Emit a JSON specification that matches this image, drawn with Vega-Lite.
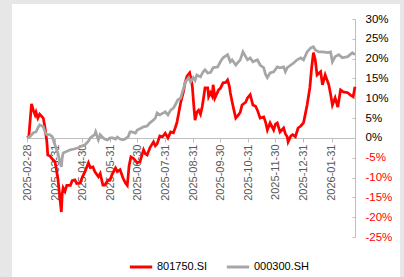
{
  "$schema": "https://vega.github.io/schema/vega-lite/v6.json",
  "width": 388,
  "height": 273,
  "autosize": {"type": "none"},
  "padding": {"left": 12, "top": 4, "right": 4, "bottom": 0},
  "background": "#e7e7e7",
  "config": {"view": {"fill": "white", "stroke": null}, "font": "Liberation Sans"},
  "data": {"values": [
{"s":"801750.SI","date":"2025-02-28","v":0},{"s":"801750.SI","date":"2025-03-02","v":0.3},{"s":"801750.SI","date":"2025-03-05","v":8.6},{"s":"801750.SI","date":"2025-03-07","v":7},{"s":"801750.SI","date":"2025-03-09","v":5.8},{"s":"801750.SI","date":"2025-03-10","v":6.5},{"s":"801750.SI","date":"2025-03-12","v":5.0},{"s":"801750.SI","date":"2025-03-14","v":6.0},{"s":"801750.SI","date":"2025-03-18","v":5.0},{"s":"801750.SI","date":"2025-03-20","v":2.5},{"s":"801750.SI","date":"2025-03-22","v":-1},{"s":"801750.SI","date":"2025-03-23","v":-4.3},{"s":"801750.SI","date":"2025-03-25","v":-4.5},{"s":"801750.SI","date":"2025-03-29","v":-5.6},{"s":"801750.SI","date":"2025-03-31","v":-6},{"s":"801750.SI","date":"2025-04-02","v":-8.6},{"s":"801750.SI","date":"2025-04-03","v":-10},{"s":"801750.SI","date":"2025-04-04","v":-12},{"s":"801750.SI","date":"2025-04-07","v":-18.7},{"s":"801750.SI","date":"2025-04-08","v":-14},{"s":"801750.SI","date":"2025-04-09","v":-12.6},{"s":"801750.SI","date":"2025-04-11","v":-13.5},{"s":"801750.SI","date":"2025-04-13","v":-12},{"s":"801750.SI","date":"2025-04-17","v":-12},{"s":"801750.SI","date":"2025-04-19","v":-10.8},{"s":"801750.SI","date":"2025-04-22","v":-10.6},{"s":"801750.SI","date":"2025-04-24","v":-11.5},{"s":"801750.SI","date":"2025-04-28","v":-11.4},{"s":"801750.SI","date":"2025-04-30","v":-10},{"s":"801750.SI","date":"2025-05-03","v":-8.6},{"s":"801750.SI","date":"2025-05-07","v":-6.3},{"s":"801750.SI","date":"2025-05-09","v":-7.5},{"s":"801750.SI","date":"2025-05-12","v":-7.3},{"s":"801750.SI","date":"2025-05-14","v":-8.5},{"s":"801750.SI","date":"2025-05-18","v":-9.8},{"s":"801750.SI","date":"2025-05-20","v":-9},{"s":"801750.SI","date":"2025-05-23","v":-11.9},{"s":"801750.SI","date":"2025-05-25","v":-11.9},{"s":"801750.SI","date":"2025-05-29","v":-10.6},{"s":"801750.SI","date":"2025-05-31","v":-10.6},{"s":"801750.SI","date":"2025-06-02","v":-9.3},{"s":"801750.SI","date":"2025-06-06","v":-7.6},{"s":"801750.SI","date":"2025-06-08","v":-8.5},{"s":"801750.SI","date":"2025-06-11","v":-8},{"s":"801750.SI","date":"2025-06-14","v":-10},{"s":"801750.SI","date":"2025-06-17","v":-11.4},{"s":"801750.SI","date":"2025-06-19","v":-12},{"s":"801750.SI","date":"2025-06-21","v":-7},{"s":"801750.SI","date":"2025-06-23","v":-4.8},{"s":"801750.SI","date":"2025-06-26","v":-5.2},{"s":"801750.SI","date":"2025-06-30","v":-6.3},{"s":"801750.SI","date":"2025-07-03","v":-6.0},{"s":"801750.SI","date":"2025-07-07","v":-3},{"s":"801750.SI","date":"2025-07-09","v":-4},{"s":"801750.SI","date":"2025-07-11","v":-4.3},{"s":"801750.SI","date":"2025-07-14","v":-2.5},{"s":"801750.SI","date":"2025-07-18","v":-1},{"s":"801750.SI","date":"2025-07-20","v":-2},{"s":"801750.SI","date":"2025-07-22","v":-1.5},{"s":"801750.SI","date":"2025-07-25","v":0.5},{"s":"801750.SI","date":"2025-07-28","v":0.3},{"s":"801750.SI","date":"2025-07-31","v":1.2},{"s":"801750.SI","date":"2025-08-03","v":0},{"s":"801750.SI","date":"2025-08-06","v":1.5},{"s":"801750.SI","date":"2025-08-09","v":1.3},{"s":"801750.SI","date":"2025-08-11","v":2.5},{"s":"801750.SI","date":"2025-08-13","v":4},{"s":"801750.SI","date":"2025-08-17","v":8.8},{"s":"801750.SI","date":"2025-08-20","v":11.5},{"s":"801750.SI","date":"2025-08-22","v":13.9},{"s":"801750.SI","date":"2025-08-24","v":15.5},{"s":"801750.SI","date":"2025-08-27","v":16.4},{"s":"801750.SI","date":"2025-08-29","v":14.5},{"s":"801750.SI","date":"2025-08-30","v":12.9},{"s":"801750.SI","date":"2025-09-01","v":7},{"s":"801750.SI","date":"2025-09-02","v":4.5},{"s":"801750.SI","date":"2025-09-04","v":6.5},{"s":"801750.SI","date":"2025-09-06","v":7},{"s":"801750.SI","date":"2025-09-08","v":6},{"s":"801750.SI","date":"2025-09-10","v":8},{"s":"801750.SI","date":"2025-09-12","v":11},{"s":"801750.SI","date":"2025-09-13","v":12.6},{"s":"801750.SI","date":"2025-09-16","v":12.6},{"s":"801750.SI","date":"2025-09-17","v":10.4},{"s":"801750.SI","date":"2025-09-19","v":11.4},{"s":"801750.SI","date":"2025-09-21","v":10.5},{"s":"801750.SI","date":"2025-09-22","v":13.4},{"s":"801750.SI","date":"2025-09-24","v":10.1},{"s":"801750.SI","date":"2025-09-28","v":12.1},{"s":"801750.SI","date":"2025-09-30","v":12.5},{"s":"801750.SI","date":"2025-10-03","v":13.9},{"s":"801750.SI","date":"2025-10-06","v":14},{"s":"801750.SI","date":"2025-10-08","v":14.6},{"s":"801750.SI","date":"2025-10-10","v":13},{"s":"801750.SI","date":"2025-10-11","v":11.4},{"s":"801750.SI","date":"2025-10-13","v":9.1},{"s":"801750.SI","date":"2025-10-15","v":7},{"s":"801750.SI","date":"2025-10-17","v":5},{"s":"801750.SI","date":"2025-10-20","v":5.8},{"s":"801750.SI","date":"2025-10-22","v":6.5},{"s":"801750.SI","date":"2025-10-24","v":8.3},{"s":"801750.SI","date":"2025-10-28","v":9},{"s":"801750.SI","date":"2025-10-30","v":10.1},{"s":"801750.SI","date":"2025-11-02","v":10.9},{"s":"801750.SI","date":"2025-11-05","v":8.3},{"s":"801750.SI","date":"2025-11-08","v":8},{"s":"801750.SI","date":"2025-11-10","v":7},{"s":"801750.SI","date":"2025-11-13","v":5},{"s":"801750.SI","date":"2025-11-17","v":5.3},{"s":"801750.SI","date":"2025-11-19","v":4},{"s":"801750.SI","date":"2025-11-21","v":2},{"s":"801750.SI","date":"2025-11-24","v":3.8},{"s":"801750.SI","date":"2025-11-28","v":2},{"s":"801750.SI","date":"2025-11-30","v":3.5},{"s":"801750.SI","date":"2025-12-02","v":3.8},{"s":"801750.SI","date":"2025-12-05","v":1.5},{"s":"801750.SI","date":"2025-12-09","v":2.5},{"s":"801750.SI","date":"2025-12-11","v":1},{"s":"801750.SI","date":"2025-12-13","v":0.3},{"s":"801750.SI","date":"2025-12-14","v":-1},{"s":"801750.SI","date":"2025-12-17","v":0.5},{"s":"801750.SI","date":"2025-12-19","v":0.8},{"s":"801750.SI","date":"2025-12-22","v":0.3},{"s":"801750.SI","date":"2025-12-25","v":2.5},{"s":"801750.SI","date":"2025-12-28","v":3},{"s":"801750.SI","date":"2025-12-31","v":3.8},{"s":"801750.SI","date":"2026-01-02","v":6},{"s":"801750.SI","date":"2026-01-04","v":8.3},{"s":"801750.SI","date":"2026-01-07","v":12.6},{"s":"801750.SI","date":"2026-01-09","v":17.7},{"s":"801750.SI","date":"2026-01-11","v":21.5},{"s":"801750.SI","date":"2026-01-13","v":19.7},{"s":"801750.SI","date":"2026-01-15","v":15.9},{"s":"801750.SI","date":"2026-01-19","v":16.7},{"s":"801750.SI","date":"2026-01-21","v":13.4},{"s":"801750.SI","date":"2026-01-24","v":15.9},{"s":"801750.SI","date":"2026-01-28","v":13.4},{"s":"801750.SI","date":"2026-01-30","v":11},{"s":"801750.SI","date":"2026-02-01","v":8.3},{"s":"801750.SI","date":"2026-02-04","v":10.1},{"s":"801750.SI","date":"2026-02-07","v":7.8},{"s":"801750.SI","date":"2026-02-10","v":12.1},{"s":"801750.SI","date":"2026-02-13","v":11.6},{"s":"801750.SI","date":"2026-02-18","v":11.4},{"s":"801750.SI","date":"2026-02-21","v":10.8},{"s":"801750.SI","date":"2026-02-24","v":10.4},{"s":"801750.SI","date":"2026-02-26","v":12.9},
{"s":"000300.SH","date":"2025-02-28","v":0},{"s":"000300.SH","date":"2025-03-01","v":0},{"s":"000300.SH","date":"2025-03-04","v":0.5},{"s":"000300.SH","date":"2025-03-07","v":1.3},{"s":"000300.SH","date":"2025-03-10","v":1.5},{"s":"000300.SH","date":"2025-03-12","v":2.5},{"s":"000300.SH","date":"2025-03-14","v":3.3},{"s":"000300.SH","date":"2025-03-18","v":2.8},{"s":"000300.SH","date":"2025-03-20","v":1.5},{"s":"000300.SH","date":"2025-03-22","v":0.8},{"s":"000300.SH","date":"2025-03-25","v":0.8},{"s":"000300.SH","date":"2025-03-28","v":0.3},{"s":"000300.SH","date":"2025-03-31","v":-1.8},{"s":"000300.SH","date":"2025-04-03","v":-3.8},{"s":"000300.SH","date":"2025-04-07","v":-7.3},{"s":"000300.SH","date":"2025-04-08","v":-5},{"s":"000300.SH","date":"2025-04-09","v":-3.8},{"s":"000300.SH","date":"2025-04-12","v":-3.5},{"s":"000300.SH","date":"2025-04-17","v":-3},{"s":"000300.SH","date":"2025-04-21","v":-2.8},{"s":"000300.SH","date":"2025-04-26","v":-2.5},{"s":"000300.SH","date":"2025-04-30","v":-2},{"s":"000300.SH","date":"2025-05-03","v":-1.8},{"s":"000300.SH","date":"2025-05-07","v":-0.8},{"s":"000300.SH","date":"2025-05-09","v":0},{"s":"000300.SH","date":"2025-05-12","v":0.5},{"s":"000300.SH","date":"2025-05-14","v":0.8},{"s":"000300.SH","date":"2025-05-15","v":1.5},{"s":"000300.SH","date":"2025-05-18","v":-0.5},{"s":"000300.SH","date":"2025-05-20","v":0.8},{"s":"000300.SH","date":"2025-05-22","v":0.3},{"s":"000300.SH","date":"2025-05-25","v":-0.3},{"s":"000300.SH","date":"2025-05-28","v":-0.5},{"s":"000300.SH","date":"2025-05-31","v":0},{"s":"000300.SH","date":"2025-06-03","v":0},{"s":"000300.SH","date":"2025-06-06","v":-0.3},{"s":"000300.SH","date":"2025-06-08","v":0.2},{"s":"000300.SH","date":"2025-06-11","v":-0.3},{"s":"000300.SH","date":"2025-06-14","v":-0.5},{"s":"000300.SH","date":"2025-06-17","v":-0.2},{"s":"000300.SH","date":"2025-06-20","v":0.3},{"s":"000300.SH","date":"2025-06-22","v":1.5},{"s":"000300.SH","date":"2025-06-24","v":1.5},{"s":"000300.SH","date":"2025-06-28","v":1.2},{"s":"000300.SH","date":"2025-06-30","v":2},{"s":"000300.SH","date":"2025-07-03","v":2.3},{"s":"000300.SH","date":"2025-07-07","v":2.8},{"s":"000300.SH","date":"2025-07-11","v":3},{"s":"000300.SH","date":"2025-07-14","v":3.8},{"s":"000300.SH","date":"2025-07-18","v":4.5},{"s":"000300.SH","date":"2025-07-20","v":5},{"s":"000300.SH","date":"2025-07-22","v":6.3},{"s":"000300.SH","date":"2025-07-25","v":5.8},{"s":"000300.SH","date":"2025-07-29","v":6.3},{"s":"000300.SH","date":"2025-07-31","v":6.6},{"s":"000300.SH","date":"2025-08-03","v":5.8},{"s":"000300.SH","date":"2025-08-06","v":7},{"s":"000300.SH","date":"2025-08-09","v":7.5},{"s":"000300.SH","date":"2025-08-11","v":8.3},{"s":"000300.SH","date":"2025-08-14","v":9.6},{"s":"000300.SH","date":"2025-08-17","v":10},{"s":"000300.SH","date":"2025-08-19","v":11.6},{"s":"000300.SH","date":"2025-08-21","v":13},{"s":"000300.SH","date":"2025-08-22","v":14.1},{"s":"000300.SH","date":"2025-08-26","v":15.2},{"s":"000300.SH","date":"2025-08-28","v":14.1},{"s":"000300.SH","date":"2025-08-31","v":15.2},{"s":"000300.SH","date":"2025-09-02","v":14.5},{"s":"000300.SH","date":"2025-09-04","v":15.9},{"s":"000300.SH","date":"2025-09-08","v":15.4},{"s":"000300.SH","date":"2025-09-11","v":16.7},{"s":"000300.SH","date":"2025-09-13","v":17.2},{"s":"000300.SH","date":"2025-09-16","v":16.4},{"s":"000300.SH","date":"2025-09-19","v":16.5},{"s":"000300.SH","date":"2025-09-22","v":17.7},{"s":"000300.SH","date":"2025-09-27","v":17.9},{"s":"000300.SH","date":"2025-09-30","v":19.2},{"s":"000300.SH","date":"2025-10-03","v":20.2},{"s":"000300.SH","date":"2025-10-08","v":21},{"s":"000300.SH","date":"2025-10-11","v":19.2},{"s":"000300.SH","date":"2025-10-13","v":19.7},{"s":"000300.SH","date":"2025-10-17","v":18.4},{"s":"000300.SH","date":"2025-10-20","v":19.2},{"s":"000300.SH","date":"2025-10-22","v":19.7},{"s":"000300.SH","date":"2025-10-25","v":21.7},{"s":"000300.SH","date":"2025-10-28","v":20.5},{"s":"000300.SH","date":"2025-10-30","v":19.7},{"s":"000300.SH","date":"2025-11-02","v":20.2},{"s":"000300.SH","date":"2025-11-05","v":19.2},{"s":"000300.SH","date":"2025-11-10","v":19.7},{"s":"000300.SH","date":"2025-11-13","v":18.4},{"s":"000300.SH","date":"2025-11-17","v":17.7},{"s":"000300.SH","date":"2025-11-19","v":16},{"s":"000300.SH","date":"2025-11-21","v":15.2},{"s":"000300.SH","date":"2025-11-24","v":16.4},{"s":"000300.SH","date":"2025-11-28","v":16.7},{"s":"000300.SH","date":"2025-12-02","v":17.9},{"s":"000300.SH","date":"2025-12-05","v":17.7},{"s":"000300.SH","date":"2025-12-09","v":17.9},{"s":"000300.SH","date":"2025-12-11","v":16.7},{"s":"000300.SH","date":"2025-12-13","v":17.7},{"s":"000300.SH","date":"2025-12-17","v":18.4},{"s":"000300.SH","date":"2025-12-20","v":18.9},{"s":"000300.SH","date":"2025-12-24","v":19.7},{"s":"000300.SH","date":"2025-12-28","v":20.2},{"s":"000300.SH","date":"2025-12-31","v":19.7},{"s":"000300.SH","date":"2026-01-04","v":21.7},{"s":"000300.SH","date":"2026-01-08","v":22.7},{"s":"000300.SH","date":"2026-01-11","v":23},{"s":"000300.SH","date":"2026-01-13","v":22.2},{"s":"000300.SH","date":"2026-01-17","v":21.7},{"s":"000300.SH","date":"2026-01-21","v":21.7},{"s":"000300.SH","date":"2026-01-27","v":21.5},{"s":"000300.SH","date":"2026-01-30","v":21.7},{"s":"000300.SH","date":"2026-02-01","v":19.2},{"s":"000300.SH","date":"2026-02-04","v":20.5},{"s":"000300.SH","date":"2026-02-08","v":21},{"s":"000300.SH","date":"2026-02-12","v":20.2},{"s":"000300.SH","date":"2026-02-18","v":20.5},{"s":"000300.SH","date":"2026-02-23","v":21.5},{"s":"000300.SH","date":"2026-02-26","v":21}
  ]},
  "mark": {"type": "line", "strokeWidth": 2.75},
  "encoding": {
    "x": {
      "field": "date", "type": "temporal",
      "scale": {"type": "utc", "domain": [{"year": 2025, "month": 2, "date": 28, "utc": true}, {"year": 2026, "month": 2, "date": 26, "utc": true}], "range": [15, 343]},
      "axis": {
        "orient": "bottom", "offset": -139, "title": null, "grid": false,
        "values": [
          {"year": 2025, "month": 2, "date": 28, "utc": true},
          {"year": 2025, "month": 3, "date": 31, "utc": true},
          {"year": 2025, "month": 4, "date": 30, "utc": true},
          {"year": 2025, "month": 5, "date": 31, "utc": true},
          {"year": 2025, "month": 6, "date": 30, "utc": true},
          {"year": 2025, "month": 7, "date": 31, "utc": true},
          {"year": 2025, "month": 8, "date": 31, "utc": true},
          {"year": 2025, "month": 9, "date": 30, "utc": true},
          {"year": 2025, "month": 10, "date": 31, "utc": true},
          {"year": 2025, "month": 11, "date": 30, "utc": true},
          {"year": 2025, "month": 12, "date": 31, "utc": true},
          {"year": 2026, "month": 1, "date": 31, "utc": true}
        ],
        "labelExpr": "utcFormat(datum.value, '%Y-%m-%d')",
        "labelAngle": 270, "labelFontSize": 11, "labelColor": "#595959",
        "tickSize": 4, "labelPadding": 2, "tickColor": "#bfbfbf", "domainColor": "#bfbfbf",
        "labelOverlap": false, "labelFlush": false
      }
    },
    "y": {
      "field": "v", "type": "quantitative",
      "scale": {"domain": [-25, 30], "nice": false, "zero": false, "range": [233, 15]},
      "axis": {
        "orient": "right", "offset": -45, "title": null, "grid": false,
        "values": [-25, -20, -15, -10, -5, 0, 5, 10, 15, 20, 25, 30],
        "labelExpr": "datum.value + '%'",
        "labelFontSize": 11.5,
        "labelColor": {"condition": {"test": "datum.value < 0", "value": "#ff0000"}, "value": "#000000"},
        "tickSize": -3, "labelPadding": 13, "tickColor": "#bfbfbf", "domainColor": "#bfbfbf",
        "labelOverlap": false, "labelFlush": false
      }
    },
    "color": {
      "field": "s", "type": "nominal",
      "scale": {"domain": ["801750.SI", "000300.SH"], "range": ["#ff0000", "#a6a6a6"]},
      "legend": {
        "orient": "none", "legendX": 116, "legendY": 250, "direction": "horizontal", "title": null,
        "symbolType": "stroke", "symbolSize": 500, "symbolStrokeWidth": 3,
        "labelFontSize": 11, "labelColor": "#000000", "columnPadding": 12, "labelOffset": 3
      }
    }
  }
}
